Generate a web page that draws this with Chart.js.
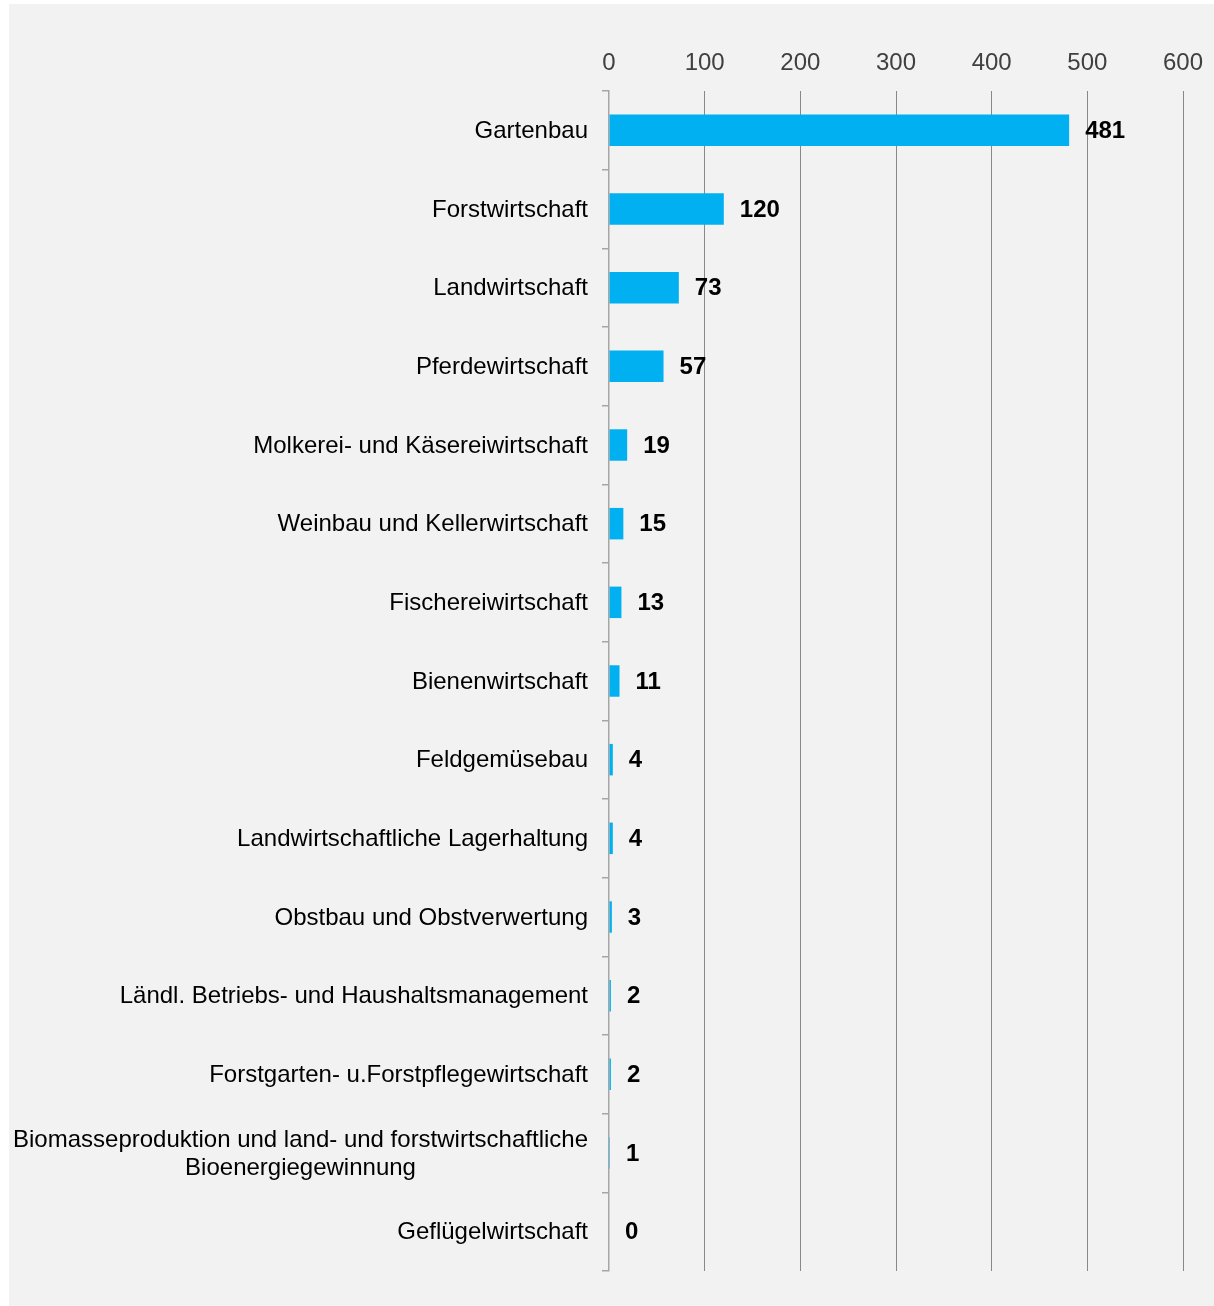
<!DOCTYPE html>
<html>
<head>
<meta charset="utf-8">
<script src="https://cdn.jsdelivr.net/npm/chart.js@4.4.1/dist/chart.umd.min.js"></script>
<style>
  html, body { margin: 0; padding: 0; background: #ffffff; }
  #wrap { position: absolute; left: 9px; top: 4px; width: 1205px; height: 1302px; background: #f2f2f2; }
  canvas { display: block; }
</style>
</head>
<body>
<div id="wrap"><canvas id="c" width="1205" height="1302"></canvas></div>
<script>
const categories = [
  "Gartenbau",
  "Forstwirtschaft",
  "Landwirtschaft",
  "Pferdewirtschaft",
  "Molkerei- und Käsereiwirtschaft",
  "Weinbau und Kellerwirtschaft",
  "Fischereiwirtschaft",
  "Bienenwirtschaft",
  "Feldgemüsebau",
  "Landwirtschaftliche Lagerhaltung",
  "Obstbau und Obstverwertung",
  "Ländl. Betriebs- und Haushaltsmanagement",
  "Forstgarten- u.Forstpflegewirtschaft",
  ["Biomasseproduktion und land- und forstwirtschaftliche", "Bioenergiegewinnung"],
  "Geflügelwirtschaft"
];
const values = [481, 120, 73, 57, 19, 15, 13, 11, 4, 4, 3, 2, 2, 1, 0];
const axisMin = 0, axisMax = 600, axisStep = 100;

const FONT = '"Liberation Sans", Arial, sans-serif';

const labelPlugin = {
  id: 'customLabels',
  afterDatasetsDraw(chart) {
    const ctx = chart.ctx;
    const y = chart.scales.y;
    ctx.save();
    // category labels
    ctx.font = '24px ' + FONT;
    ctx.fillStyle = '#000000';
    ctx.textBaseline = 'middle';
    ctx.textAlign = 'center';
    const rightEdge = y.right - 21;
    categories.forEach((lab, i) => {
      const lines = Array.isArray(lab) ? lab : [lab];
      const maxW = Math.max(...lines.map(l => ctx.measureText(l).width));
      const cy = y.getPixelForValue(i) + 1;
      const lh = 28;
      lines.forEach((l, k) => {
        const yy = cy + (k - (lines.length - 1) / 2) * lh;
        ctx.fillText(l, rightEdge - maxW / 2, yy);
      });
    });
    // value labels
    ctx.font = 'bold 24px ' + FONT;
    ctx.textAlign = 'left';
    const meta = chart.getDatasetMeta(0);
    meta.data.forEach((bar, i) => {
      ctx.fillText(String(values[i]), bar.x + 16, bar.y + 1);
    });
    ctx.restore();
  }
};

new Chart(document.getElementById('c'), {
  type: 'bar',
  data: {
    labels: categories,
    datasets: [{
      data: values,
      backgroundColor: '#00b0f0',
      borderWidth: 0,
      categoryPercentage: 1.0,
      barPercentage: 0.4
    }]
  },
  options: {
    indexAxis: 'y',
    responsive: false,
    animation: false,
    events: [],
    layout: { padding: { top: 32.2, right: 31, bottom: 35, left: 0 } },
    plugins: { legend: { display: false }, tooltip: { enabled: false } },
    scales: {
      x: {
        position: 'top',
        min: axisMin,
        max: axisMax,
        ticks: {
          stepSize: axisStep,
          color: '#404040',
          font: { family: FONT, size: 24 },
          padding: 13
        },
        grid: {
          drawTicks: false,
          color: (c) => c.index === 0 ? 'rgba(0,0,0,0)' : '#888888',
          lineWidth: 1
        },
        border: { display: false },
        afterFit(scale) { scale.paddingRight = 0; scale.paddingLeft = 0; }
      },
      y: {
        ticks: { display: false },
        grid: {
          drawOnChartArea: false,
          drawTicks: true,
          tickLength: 7,
          color: '#a6a6a6',
          lineWidth: 1.5,
          offset: true
        },
        border: { display: true, color: '#a6a6a6', width: 1.5 },
        afterFit(scale) { scale.width = 600; }
      }
    }
  },
  plugins: [labelPlugin]
});
</script>
</body>
</html>
